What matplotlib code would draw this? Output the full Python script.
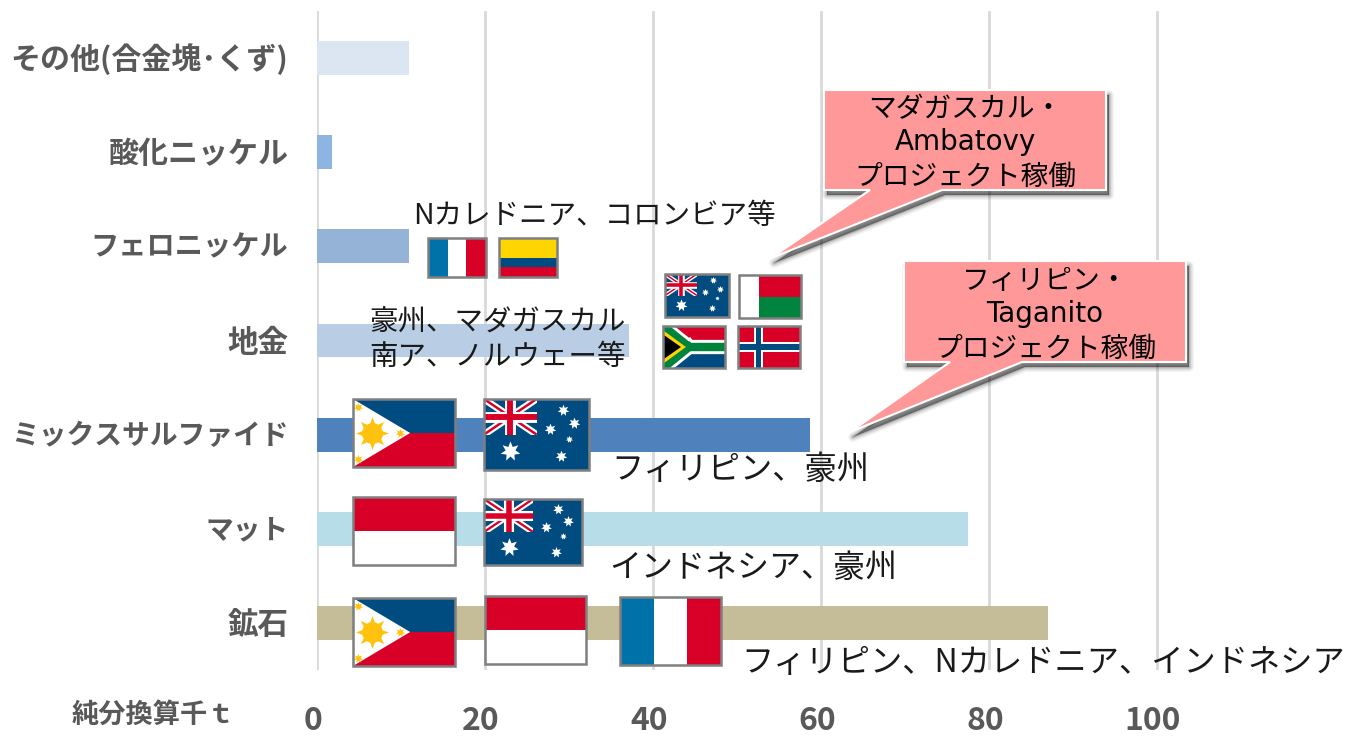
import matplotlib
matplotlib.use("Agg")
import matplotlib.pyplot as plt
from matplotlib.patches import Rectangle, Polygon
from matplotlib.transforms import ScaledTranslation

plt.rcParams['font.family'] = ['Noto Sans CJK JP', 'DejaVu Sans']

categories = ["その他(合金塊･くず)", "酸化ニッケル", "フェロニッケル", "地金", "ミックスサルファイド", "マット", "鉱石"]
values = [11.0, 1.8, 10.9, 37.1, 58.7, 77.5, 87.0]
bar_colors = ["#DCE6F2", "#8EB4E3", "#95B3D7", "#B9CDE5", "#4F81BD", "#B7DEE8", "#C4BD97"]
label_sizes = [21.6, 21.6, 20.3, 22, 20, 20, 22]
x_ticks = [0, 20, 40, 60, 80, 100]
unit_label = "純分換算千ｔ"
callout_1 = ["マダガスカル・", "Ambatovy", "プロジェクト稼働"]
callout_2 = ["フィリピン・", "Taganito", "プロジェクト稼働"]

GREY = "#595959"
BLUE = "#004B7F"
RED = "#D80027"
YELLOW = "#FFD500"
GREEN = "#00843D"
FR_BLUE = "#0072AA"
EDGE = "#7F7F7F"

fig = plt.figure(figsize=(13.52, 7.36), dpi=100)

# bar axes, 8.4 px per unit
ax = fig.add_axes([317 / 1352, 66 / 736, 1035 / 1352, 659 / 736])
ypos = list(range(len(categories)))
ax.barh(ypos, values, height=0.36, color=bar_colors, zorder=3)
ax.set_xlim(0, 1035 / 8.4)
ax.set_ylim(len(categories) - 0.5, -0.5)
ax.set_yticks(ypos)
ax.set_yticklabels(categories, fontweight="bold", color=GREY)
ax.set_xticks(x_ticks)
ax.set_xticklabels(x_ticks, fontsize=23, fontweight="bold", color=GREY)
ax.tick_params(axis="y", length=0, pad=20.5)
ax.tick_params(axis="x", length=0, pad=25.5)
shift = ScaledTranslation(-4 / 100, 0, fig.dpi_scale_trans)
for lab in ax.get_xticklabels():
    lab.set_transform(lab.get_transform() + shift)
shift_y = ScaledTranslation(0, 1.5 / 100, fig.dpi_scale_trans)
for lab, fs in zip(ax.get_yticklabels(), label_sizes):
    lab.set_fontsize(fs)
    lab.set_transform(lab.get_transform() + shift_y)
ax.grid(axis="x", color="#D9D9D9", lw=2, zorder=1)
ax.set_axisbelow(True)
for s in ax.spines.values():
    s.set_visible(False)

# overlay in pixel coordinates for flags and callouts
ov = fig.add_axes([0, 0, 1, 1], facecolor="none")
ov.set_xlim(0, 1352)
ov.set_ylim(736, 0)
ov.axis("off")


def band(x, y, w, h, u0, v0, u1, v1, color, z):
    ov.add_patch(Rectangle((x + u0 * w, y + v0 * h), (u1 - u0) * w, (v1 - v0) * h, fc=color, ec="none", zorder=z))


def border(x, y, w, h, z):
    ov.add_patch(Rectangle((x, y), w, h, fc="none", ec=EDGE, lw=1.8, zorder=z + 3))


def stars(x, y, w, h, pts, size, z, color="white"):
    ov.scatter([x + p[0] * w for p in pts], [y + p[1] * h for p in pts], s=size, marker=(7, 1, 0), color=color,
               linewidths=0, zorder=z + 2)


def flag_fr(x, y, w, h, z=10):
    band(x, y, w, h, 0, 0, 0.34, 1, FR_BLUE, z)
    band(x, y, w, h, 0.34, 0, 0.66, 1, "white", z)
    band(x, y, w, h, 0.66, 0, 1, 1, RED, z)
    border(x, y, w, h, z)


def flag_id(x, y, w, h, z=10):
    band(x, y, w, h, 0, 0, 1, 0.5, RED, z)
    band(x, y, w, h, 0, 0.5, 1, 1, "white", z)
    border(x, y, w, h, z)


def flag_co(x, y, w, h, z=10):
    band(x, y, w, h, 0, 0, 1, 0.5, YELLOW, z)
    band(x, y, w, h, 0, 0.5, 1, 0.75, BLUE, z)
    band(x, y, w, h, 0, 0.75, 1, 1, RED, z)
    border(x, y, w, h, z)


def flag_mg(x, y, w, h, z=10):
    band(x, y, w, h, 0, 0, 0.33, 1, "white", z)
    band(x, y, w, h, 0.33, 0, 1, 0.5, RED, z)
    band(x, y, w, h, 0.33, 0.5, 1, 1, GREEN, z)
    border(x, y, w, h, z)


def flag_no(x, y, w, h, z=10):
    band(x, y, w, h, 0, 0, 1, 1, RED, z)
    band(x, y, w, h, 0.25, 0, 0.41, 1, "white", z)
    band(x, y, w, h, 0, 0.38, 1, 0.62, "white", z)
    band(x, y, w, h, 0.29, 0, 0.37, 1, BLUE, z)
    band(x, y, w, h, 0, 0.44, 1, 0.56, BLUE, z)
    border(x, y, w, h, z)


def flag_za(x, y, w, h, z=10):
    band(x, y, w, h, 0, 0, 1, 0.5, RED, z)
    band(x, y, w, h, 0, 0.5, 1, 1, BLUE, z)
    clip = Rectangle((x, y), w, h, transform=ov.transData)
    for lw, col in [(h * 0.34 * 0.72, "white"), (h * 0.2 * 0.72, GREEN)]:
        l1, = ov.plot([x, x + 0.42 * w, x + w], [y, y + 0.5 * h, y + 0.5 * h], color=col, lw=lw, zorder=z + 1,
                      solid_joinstyle="miter")
        l2, = ov.plot([x, x + 0.42 * w], [y + h, y + 0.5 * h], color=col, lw=lw, zorder=z + 1)
        l1.set_clip_path(clip)
        l2.set_clip_path(clip)
    ov.add_patch(Polygon([(x, y + 0.1 * h), (x + 0.37 * w, y + 0.5 * h), (x, y + 0.9 * h)], fc=YELLOW, ec="none", zorder=z + 2))
    ov.add_patch(Polygon([(x, y + 0.2 * h), (x + 0.29 * w, y + 0.5 * h), (x, y + 0.8 * h)], fc="black", ec="none", zorder=z + 2))
    border(x, y, w, h, z)


def flag_ph(x, y, w, h, z=10):
    band(x, y, w, h, 0, 0, 1, 0.5, BLUE, z)
    band(x, y, w, h, 0, 0.5, 1, 1, RED, z)
    ov.add_patch(Polygon([(x, y), (x + 0.56 * w, y + 0.5 * h), (x, y + h)], fc="white", ec="none", zorder=z + 1))
    ov.scatter([x + 0.19 * w], [y + 0.5 * h], s=w * 5.5, marker=(8, 1, 0), color="#FFC20E", linewidths=0, zorder=z + 2)
    ov.scatter([x + 0.19 * w], [y + 0.5 * h], s=w * 2.2, marker="o", color="#FFC20E", linewidths=0, zorder=z + 2)
    stars(x, y, w, h, [(0.05, 0.12), (0.46, 0.5), (0.05, 0.88)], 45, z, "#FFC20E")
    border(x, y, w, h, z)


def flag_au(x, y, w, h, z=10):
    band(x, y, w, h, 0, 0, 1, 1, BLUE, z)
    cw, ch = 0.5 * w, 0.5 * h
    clip = Rectangle((x, y), cw, ch, transform=ov.transData)
    for a, b, col, lw in [((x, y), (x + cw, y + ch), "white", ch * 0.14),
                          ((x, y + ch), (x + cw, y), "white", ch * 0.14),
                          ((x, y), (x + cw, y + ch), RED, ch * 0.05),
                          ((x, y + ch), (x + cw, y), RED, ch * 0.05),
                          ((x + cw / 2, y), (x + cw / 2, y + ch), "white", ch * 0.22),
                          ((x, y + ch / 2), (x + cw, y + ch / 2), "white", ch * 0.22),
                          ((x + cw / 2, y), (x + cw / 2, y + ch), RED, ch * 0.12),
                          ((x, y + ch / 2), (x + cw, y + ch / 2), RED, ch * 0.12)]:
        ln, = ov.plot([a[0], b[0]], [a[1], b[1]], color=col, lw=lw, zorder=z + 1, solid_capstyle="butt")
        ln.set_clip_path(clip)
    k = w / 100
    stars(x, y, w, h, [(0.75, 0.15), (0.86, 0.34), (0.63, 0.42), (0.73, 0.8)], 65 * k * k, z)
    stars(x, y, w, h, [(0.81, 0.56)], 25 * k * k, z)
    stars(x, y, w, h, [(0.25, 0.73)], 190 * k * k, z)
    border(x, y, w, h, z)


flag_ph(353, 399, 102, 68)
flag_au(484, 399, 105, 71)
flag_id(353, 497, 102, 68)
flag_au(484, 499, 98, 66)
flag_ph(353, 598, 102, 68)
flag_id(485, 596, 101, 68)
flag_fr(620, 597, 101, 68)
flag_fr(428, 238, 58, 39)
flag_co(499, 238, 58, 39)
flag_au(665, 274, 64, 43)
flag_mg(739, 275, 62, 43)
flag_za(663, 326, 62, 42)
flag_no(738, 326, 62, 42)


def callout(x, y, w, h, base0, base1, tip, lines, cy):
    pts = [(x, y), (x + w, y), (x + w, y + h), (base1, y + h), tip, (base0, y + h), (x, y + h)]
    shadow = [(p[0] + 3, p[1] + 5) for p in pts]
    # soft shadow, wide faint strokes under a narrower dark one
    for stroke, alpha in [(7, 0.05), (5, 0.07), (3, 0.09), (1.5, 0.12), (0, 0.2)]:
        ov.add_patch(Polygon(shadow, fc="black", ec="black", lw=stroke, alpha=alpha, zorder=20, joinstyle="round"))
    ov.add_patch(Polygon(pts, fc="#FF9999", ec="white", lw=1.5, zorder=21, joinstyle="miter"))
    for i, (line, yy) in enumerate(zip(lines, cy)):
        fam = "DejaVu Sans" if i == 1 else None
        ov.text(x + w / 2, yy, line, fontsize=20, family=fam, ha="center", va="center", color="black", zorder=22)


callout(824, 90, 282, 100, 870, 942, (771, 258), callout_1, [109, 142, 177])
callout(904, 261, 282, 101, 950, 1022, (850, 432), callout_2, [281, 314, 349])

notes = [("Nカレドニア、コロンビア等", 413, 216, 20.5),
         ("豪州、マダガスカル", 369, 323, 20.5),
         ("南ア、ノルウェー等", 369, 357, 20.5),
         ("フィリピン、豪州", 611, 470, 23.2),
         ("インドネシア、豪州", 609, 568, 23),
         ("フィリピン、Nカレドニア、インドネシア", 741, 663, 23.2)]
for txt, nx, ny, fs in notes:
    ov.text(nx, ny, txt, fontsize=fs, ha="left", va="center", color="#1A1A1A", zorder=15)

ov.text(72, 715, unit_label, fontsize=19.6, fontweight="bold", color=GREY, ha="left", va="center")

fig.savefig("out.png", dpi=100)
